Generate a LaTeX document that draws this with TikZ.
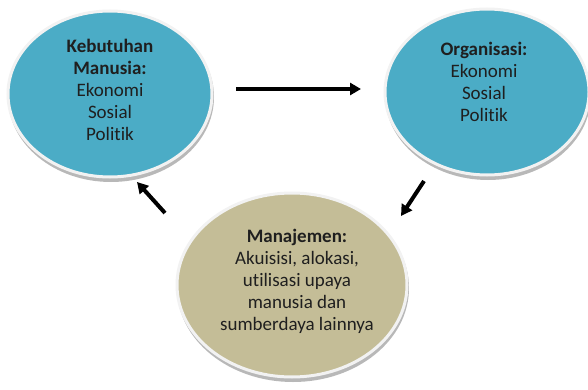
\documentclass[tikz,border=0pt]{standalone}
\usepackage{fontspec}
\setmainfont{Carlito}[Ligatures={NoCommon,NoContextual}]
\usetikzlibrary{arrows.meta,shapes.geometric}
\definecolor{tealfill}{HTML}{4BACC6}
\definecolor{tanfill}{HTML}{C4BD97}
\definecolor{rim}{HTML}{F2F2F2}
\definecolor{shade}{HTML}{B8B8B8}
\tikzset{
  blob/.style={ellipse, draw=rim, line width=3pt, inner sep=0pt},
  blobshadow/.style={ellipse, fill=shade, draw=none, inner sep=0pt},
  label/.style={align=center, font=\fontsize{19}{22}\selectfont, text=black!88},
  bigarrow/.style={line width=4pt, -{Triangle[length=11pt,width=12pt]}, black}
}
\begin{document}
\begin{tikzpicture}[x=1pt,y=-1pt]
\useasboundingbox (0,0) rectangle (588,390);
% shadows
\node[blobshadow, minimum width=206pt, minimum height=170pt] (Ls) at (111,97) {};
\node[blobshadow, minimum width=206pt, minimum height=170pt] (Rs) at (488,95) {};
\node[blobshadow, minimum width=232pt, minimum height=188pt] (Bs) at (293,288) {};
% ellipses
\node[blob, fill=tealfill, minimum width=204pt, minimum height=166pt] (L) at (110,94) {};
\node[blob, fill=tealfill, minimum width=204pt, minimum height=166pt] (R) at (487,92) {};
\node[blob, fill=tanfill, minimum width=230pt, minimum height=184pt] (B) at (292,285) {};
% texts
\node[label] (Lt) at (110,90) {\textbf{Kebutuhan}\\\textbf{Manusia:}\\Ekonomi\\Sosial\\Politik};
\node[label] (Rt) at (484,82) {\textbf{Organisasi:}\\Ekonomi\\Sosial\\Politik};
\node[label] (Bt) at (297,281) {\textbf{Manajemen:}\\Akuisisi, alokasi,\\utilisasi upaya\\manusia dan\\sumberdaya lainnya};
% arrows
\coordinate (a1s) at (236,89);
\coordinate (a1e) at (361,89);
\coordinate (a2s) at (424,181);
\coordinate (a2e) at (401,216);
\coordinate (a3s) at (165,213);
\coordinate (a3e) at (137,182);
\draw[bigarrow] (a1s) -- (a1e);
\draw[bigarrow] (a2s) -- (a2e);
\draw[bigarrow] (a3s) -- (a3e);
\end{tikzpicture}
\end{document}
